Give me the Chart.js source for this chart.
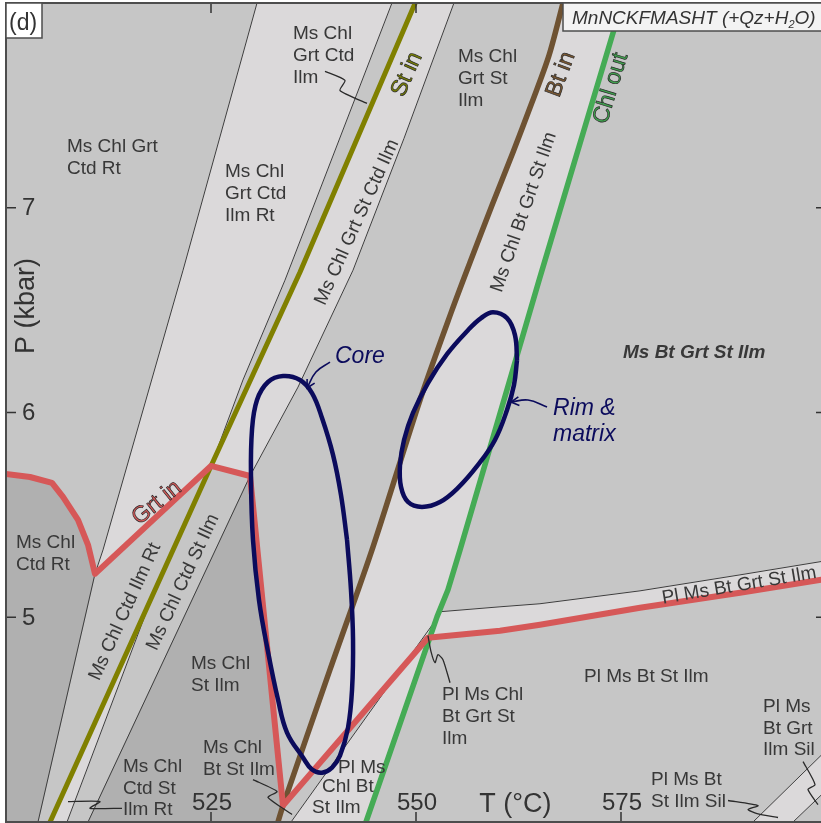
<!DOCTYPE html>
<html>
<head>
<meta charset="utf-8">
<title>MnNCKFMASHT pseudosection</title>
<script src="https://cdn.jsdelivr.net/npm/chart.js@4.4.1/dist/chart.umd.min.js"></script>
<style>
  html, body { margin: 0; padding: 0; background: #fff; overflow: hidden; }
  canvas { display: block; }
</style>
</head>
<body>
<canvas id="pt" width="828" height="823"></canvas>
<script>
// reaction lines and field boundaries, points are [T (°C), P (kbar)]
const grtIn = [[500.0, 5.700], [502.93, 5.685], [505.61, 5.656], [506.95, 5.588], [508.78, 5.476],
  [510.0, 5.354], [510.85, 5.212], [525.0, 5.739], [529.76, 5.690], [533.78, 4.080],
  [551.46, 4.900], [560.24, 4.934], [565.12, 4.963], [577.32, 5.046], [589.51, 5.120], [600.0, 5.187]];
const stIn = [[549.9, 8.0], [535.85, 6.685], [525.0, 5.739], [505.37, 4.0]];
const btIn = [[567.93, 8.0], [566.22, 7.744], [564.15, 7.515], [561.83, 7.271], [559.27, 7.012],
  [556.59, 6.734], [554.39, 6.500], [550.49, 6.061], [544.76, 5.344], [539.51, 4.744],
  [533.78, 4.080], [533.17, 4.0]];
const chlOut = [[575.12, 8.0], [565.12, 6.661], [555.37, 5.329], [553.90, 5.134], [552.56, 5.002], [543.90, 4.0]];

// thin field boundaries
const line1 = [[530.61, 8.0], [521.59, 6.695], [511.83, 5.329], [510.85, 5.212], [503.90, 4.0]];
const line2 = [[547.07, 8.0], [534.02, 6.646], [528.90, 6.159], [525.0, 5.739]];
const line3 = [[554.63, 8.0], [548.54, 7.339], [542.32, 6.695], [535.61, 6.124], [529.76, 5.690], [510.0, 4.0]];
const sliver = [[517.68, 5.085], [507.44, 4.0]];
const plUpper = [[552.93, 5.027], [560.24, 5.051], [565.12, 5.066], [577.32, 5.129], [589.51, 5.207], [600.0, 5.276]];
const plLower = [[552.44, 4.988], [534.76, 4.0]];
const silA = [[600.0, 4.349], [591.10, 4.0]];
const silB = [[600.0, 4.154], [595.98, 4.0]];

// garnet core and rim P-T estimates (closed outlines)
const coreOutline = [[541.59, 5.378], [542.07, 5.134], [542.32, 4.890], [542.20, 4.646], [541.71, 4.461],
  [540.73, 4.324], [539.76, 4.266], [538.54, 4.241], [537.32, 4.256], [536.22, 4.315], [534.27, 4.437],
  [533.17, 4.598], [531.95, 4.832], [530.85, 5.085], [530.12, 5.378], [529.88, 5.671], [530.0, 5.915],
  [530.61, 6.061], [531.95, 6.149], [533.78, 6.178], [535.85, 6.159], [537.32, 6.095], [538.54, 5.973],
  [539.88, 5.793], [540.85, 5.598], [541.59, 5.378]];
const rimOutline = [[562.32, 6.256], [561.95, 6.134], [561.10, 6.012], [559.63, 5.866], [557.56, 5.744],
  [555.12, 5.632], [552.93, 5.563], [550.73, 5.539], [549.02, 5.563], [548.17, 5.637], [548.05, 5.744],
  [548.54, 5.866], [549.63, 5.998], [551.46, 6.144], [553.78, 6.285], [556.34, 6.402], [557.93, 6.461],
  [559.39, 6.490], [561.10, 6.461], [562.07, 6.378], [562.32, 6.256]];
const coreArrow = [[539.51, 6.246], [537.80, 6.198], [536.71, 6.120]];
const rimArrow = [[565.98, 6.027], [563.66, 6.061], [561.59, 6.051]];

// leaders from labels into the small fields
const leaders = [
  [[538.90, 7.666], [541.34, 7.622], [540.73, 7.573], [544.02, 7.510]],
  [[514.15, 4.067], [510.24, 4.067], [511.46, 4.100], [507.56, 4.100]],
  [[530.12, 4.207], [533.05, 4.149], [531.95, 4.120], [534.88, 4.037]],
  [[551.46, 4.910], [551.83, 4.832], [552.32, 4.778], [552.68, 4.817], [553.29, 4.793], [554.15, 4.680]],
  [[588.05, 4.105], [591.71, 4.080], [590.49, 4.061], [591.59, 4.041], [594.15, 4.022]],
  [[597.20, 4.295], [598.66, 4.183], [597.80, 4.159], [599.02, 4.085]]
];

const tempTicks = [525, 550, 575];
const presTicks = [5, 6, 7];

const fieldLabels = [
  { text: ['Ms Chl Grt', 'Ctd Rt'], at: [507.44, 7.271] },
  { text: ['Ms Chl', 'Grt Ctd', 'Ilm Rt'], at: [526.71, 7.149] },
  { text: ['Ms Chl', 'Grt Ctd', 'Ilm'], at: [535.00, 7.822] },
  { text: ['Ms Chl', 'Grt St', 'Ilm'], at: [555.12, 7.710] },
  { text: ['Ms Chl', 'Ctd Rt'], at: [501.22, 5.339] },
  { text: ['Ms Chl', 'St Ilm'], at: [522.56, 4.746] },
  { text: ['Ms Chl', 'Bt St Ilm'], at: [524.02, 4.337] },
  { text: ['Ms Chl', 'Ctd St', 'Ilm Rt'], at: [514.27, 4.244] },
  { text: ['Pl Ms'], at: [540.49, 4.241] },
  { text: ['Chl Bt'], at: [538.54, 4.146] },
  { text: ['St Ilm'], at: [537.32, 4.044] },
  { text: ['Pl Ms Chl', 'Bt Grt St', 'Ilm'], at: [553.17, 4.595] },
  { text: ['Pl Ms Bt St Ilm'], at: [570.49, 4.685] },
  { text: ['Pl Ms', 'Bt Grt', 'Ilm Sil'], at: [592.32, 4.537] },
  { text: ['Pl Ms Bt', 'St Ilm Sil'], at: [578.66, 4.180] },
  { text: ['Ms Bt Grt St Ilm'], at: [575.24, 6.266], font: 'italic bold 19px' },
  { text: ['Ms Chl Grt St Ctd Ilm'], at: [542.80, 6.929], angle: -65.7, center: true },
  { text: ['Ms Chl Bt Grt St Ilm'], at: [563.17, 6.978], angle: -71, center: true },
  { text: ['Ms Chl Ctd Ilm Rt'], at: [514.51, 5.027], angle: -65.5, center: true },
  { text: ['Ms Chl Ctd St Ilm'], at: [521.59, 5.171], angle: -65, center: true },
  { text: ['Pl Ms Bt Grt St Ilm'], at: [589.51, 5.129], angle: -9.5, align: 'center' },
  { text: ['St in'], at: [548.90, 7.651], angle: -66, center: true, font: '23px', color: '#7a8200', outline: true },
  { text: ['Bt in'], at: [567.68, 7.651], angle: -70, center: true, font: '23px', color: '#7a5731', outline: true },
  { text: ['Chl out'], at: [573.78, 7.583], angle: -73, center: true, font: '23px', color: '#3fa44e', outline: true },
  { text: ['Grt in'], at: [518.41, 5.559], angle: -39, center: true, font: '23px', color: '#d65858', outline: true },
  { text: ['Core'], at: [540.12, 6.241], font: 'italic 23px', color: '#0b0b5c' },
  { text: ['Rim &', 'matrix'], at: [566.71, 5.990], font: 'italic 23px', color: '#0b0b5c', lead: 26 }
];

const MID = '#c6c6c6', LIGHT = '#dbd9da', DARK = '#b0b0b0';
const FONT = '"Liberation Sans", Arial, sans-serif';

const pts = arr => arr.map(([x, y]) => ({ x, y }));

function area(points, color) {
  return { data: pts(points), fill: 'shape', backgroundColor: color, borderColor: color,
    borderWidth: 1, pointRadius: 0, tension: 0, order: 100 };
}

function curve(points, color, width, order, tension = 0) {
  return { data: pts(points), fill: false, borderColor: color, borderWidth: width, pointRadius: 0,
    tension, order, borderCapStyle: 'butt', borderJoinStyle: 'round' };
}

const datasets = [
  // lighter and darker fields over the mid-grey background
  area([...line1.slice(0, 4), ...line2.slice().reverse()], LIGHT),
  area([...stIn.slice(0, 3), ...line3.slice(0, 5).reverse()], LIGHT),
  area([...btIn.slice(0, 11), grtIn[10], ...chlOut.slice(0, 5).reverse()], LIGHT),
  area([...plUpper, ...grtIn.slice(10).reverse()], LIGHT),
  area([...plLower, chlOut[5], chlOut[4]], LIGHT),
  area([silA[0], silA[1], silB[1], silB[0]], LIGHT),
  area([sliver[0], sliver[1], stIn[3]], LIGHT),
  area([...grtIn.slice(0, 7), line1[4], [500, 4]], DARK),
  area([...line3.slice(4), btIn[11], btIn[10]], DARK),

  ...[line1, line2, line3, sliver, plUpper, plLower, silA, silB].map(l => curve(l, '#3d3d3d', 1, 50)),

  curve(stIn, '#808000', 5, 40),
  curve(btIn, '#6e5232', 5.5, 40, 0.3),
  curve(chlOut, '#45ab55', 5.5, 40),
  curve(grtIn, '#d65858', 6, 30),

  curve(coreOutline, '#0b0b5c', 4.5, 20, 0.4),
  curve(rimOutline, '#0b0b5c', 4.5, 20, 0.4),
  curve(coreArrow, '#0b0b5c', 1.6, 10, 0.4),
  curve(rimArrow, '#0b0b5c', 1.6, 10, 0.4),
  ...leaders.map(l => curve(l, '#2a2a2a', 1.3, 10, 0.2))
];

function arrowHead(ctx, chart, arr) {
  const sx = chart.scales.x, sy = chart.scales.y;
  const a = arr[arr.length - 2], b = arr[arr.length - 1];
  const x0 = sx.getPixelForValue(a[0]), y0 = sy.getPixelForValue(a[1]);
  const x1 = sx.getPixelForValue(b[0]), y1 = sy.getPixelForValue(b[1]);
  const ang = Math.atan2(y1 - y0, x1 - x0);
  ctx.save();
  ctx.strokeStyle = '#0b0b5c';
  ctx.lineWidth = 1.6;
  ctx.beginPath();
  ctx.moveTo(x1 - 9 * Math.cos(ang - 0.5), y1 - 9 * Math.sin(ang - 0.5));
  ctx.lineTo(x1, y1);
  ctx.lineTo(x1 - 9 * Math.cos(ang + 0.5), y1 - 9 * Math.sin(ang + 0.5));
  ctx.stroke();
  ctx.restore();
}

function drawLabel(ctx, chart, lab) {
  const x = chart.scales.x.getPixelForValue(lab.at[0]);
  const y = chart.scales.y.getPixelForValue(lab.at[1]);
  ctx.save();
  ctx.translate(x, y);
  if (lab.angle) ctx.rotate(lab.angle * Math.PI / 180);
  ctx.font = (lab.font || '19px') + ' ' + FONT;
  ctx.fillStyle = lab.color || '#383838';
  ctx.textAlign = lab.center ? 'center' : (lab.align || 'left');
  ctx.textBaseline = lab.center ? 'middle' : 'alphabetic';
  const lead = lab.lead || 21.7;
  lab.text.forEach((t, i) => {
    ctx.fillText(t, 0, i * lead);
    if (lab.outline) {
      ctx.lineWidth = 0.7;
      ctx.strokeStyle = '#2a2a2a';
      ctx.strokeText(t, 0, i * lead);
    }
  });
  ctx.restore();
}

const decorations = {
  id: 'decorations',
  beforeDatasetsDraw(chart) {
    const { ctx, chartArea: a } = chart;
    ctx.save();
    ctx.fillStyle = MID;
    ctx.fillRect(a.left, a.top, a.right - a.left, a.bottom - a.top);
    ctx.restore();
  },
  afterDatasetsDraw(chart) {
    const { ctx, chartArea: a } = chart;
    const sx = chart.scales.x, sy = chart.scales.y;

    arrowHead(ctx, chart, coreArrow);
    arrowHead(ctx, chart, rimArrow);
    fieldLabels.forEach(l => drawLabel(ctx, chart, l));

    ctx.save();
    // ticks point inwards on all four sides
    ctx.strokeStyle = '#333';
    ctx.lineWidth = 1.5;
    ctx.beginPath();
    tempTicks.forEach(t => {
      const x = sx.getPixelForValue(t);
      ctx.moveTo(x, a.top); ctx.lineTo(x, a.top + 10);
      ctx.moveTo(x, a.bottom); ctx.lineTo(x, a.bottom - 10);
    });
    presTicks.forEach(p => {
      const y = sy.getPixelForValue(p);
      ctx.moveTo(a.left, y); ctx.lineTo(a.left + 10, y);
      ctx.moveTo(a.right, y); ctx.lineTo(a.right - 10, y);
    });
    ctx.stroke();

    ctx.fillStyle = '#333';
    ctx.font = '24px ' + FONT;
    ctx.textAlign = 'center';
    ctx.textBaseline = 'alphabetic';
    tempTicks.forEach(t => ctx.fillText(String(t), sx.getPixelForValue(t) + 1, a.bottom - 12));
    ctx.textAlign = 'left';
    ctx.textBaseline = 'middle';
    presTicks.forEach(p => ctx.fillText(String(p), a.left + 16, sy.getPixelForValue(p) + 1));

    // axis titles
    ctx.font = '27px ' + FONT;
    ctx.textBaseline = 'alphabetic';
    ctx.fillText('T (°C)', sx.getPixelForValue(557.7), a.bottom - 10);
    ctx.save();
    ctx.translate(a.left + 28, sy.getPixelForValue(6.52));
    ctx.rotate(-Math.PI / 2);
    ctx.textAlign = 'center';
    ctx.fillText('P (kbar)', 0, 0);
    ctx.restore();

    // frame
    ctx.strokeStyle = '#4d4d4d';
    ctx.lineWidth = 2;
    ctx.strokeRect(a.left, a.top, a.right - a.left, a.bottom - a.top);

    // panel letter
    ctx.lineWidth = 1.5;
    ctx.fillStyle = '#fff';
    ctx.fillRect(a.left, a.top, 36, 35);
    ctx.strokeRect(a.left, a.top, 36, 35);
    ctx.fillStyle = '#333';
    ctx.font = '23px ' + FONT;
    ctx.fillText('(d)', a.left + 3, a.top + 27);

    // system box
    const bx = a.right - 263;
    ctx.fillStyle = '#f3f3f3';
    ctx.fillRect(bx, a.top, 270, 28);
    ctx.strokeRect(bx, a.top, 270, 28);
    ctx.fillStyle = '#333';
    ctx.font = 'italic 19px ' + FONT;
    let tx = bx + 9;
    const base = a.top + 21;
    const head = 'MnNCKFMASHT (+Qz+H';
    ctx.fillText(head, tx, base);
    tx += ctx.measureText(head).width;
    ctx.font = 'italic 11px ' + FONT;
    ctx.fillText('2', tx, base + 4);
    tx += ctx.measureText('2').width;
    ctx.font = 'italic 19px ' + FONT;
    ctx.fillText('O)', tx, base);
    ctx.restore();
  }
};

new Chart(document.getElementById('pt'), {
  type: 'line',
  data: { datasets },
  options: {
    responsive: false,
    animation: false,
    events: [],
    layout: { padding: { left: 6, top: 3, right: 2, bottom: 1 } },
    scales: {
      x: { type: 'linear', min: 500, max: 600, display: false },
      y: { type: 'linear', min: 4, max: 8, display: false }
    },
    plugins: {
      legend: { display: false },
      tooltip: { enabled: false }
    }
  },
  plugins: [decorations]
});
</script>
</body>
</html>
